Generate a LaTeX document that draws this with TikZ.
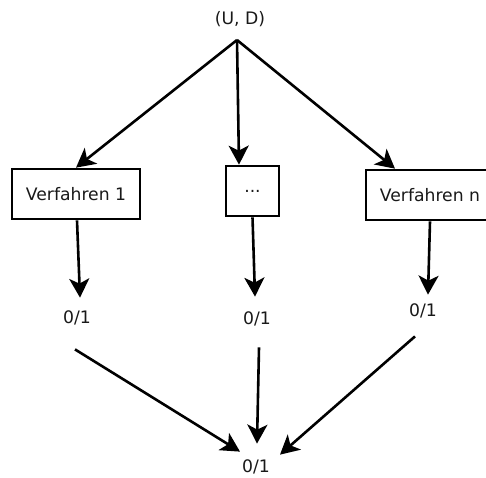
\documentclass[tikz,border=0pt]{standalone}
\usepackage{fontspec}
\setmainfont{DejaVu Sans}
\usetikzlibrary{arrows.meta}

\tikzset{
  box/.style={draw, line width=2.7pt, minimum height=50pt, inner sep=0pt, text=black!90},
  lbl/.style={inner sep=0pt, text=black!90},
  arr/.style={line width=2.6pt, -{Stealth[length=19pt, width=20pt, inset=5pt]}},
}

\begin{document}
\begin{tikzpicture}[x=1pt, y=-1pt, font=\fontsize{17.2}{20}\selectfont]
  % canvas (the last box runs past the right edge)
  \clip (0,0) rectangle (486,477);
  \fill[white] (0,0) rectangle (486,477);

  % input and the split point of the three edges
  \node[lbl] (ud) at (240,19) {(U, D)};
  \coordinate (fork) at (237,40);

  % procedures
  \node[box, minimum width=128pt] (b1) at (76,194) {Verfahren 1};
  \node[box, minimum width=53pt] (b2) at (252.5,191) {...};
  \node[box, minimum width=128pt] (b3) at (430,195) {Verfahren n};

  % single results
  \node[lbl] (r1) at (77,318) {0/1};
  \node[lbl] (r2) at (257,319) {0/1};
  \node[lbl] (r3) at (423,311) {0/1};

  % combined result
  \node[lbl] (bot) at (256,467) {0/1};

  % input to procedures
  \draw[arr] (fork) -- (b1.north);
  \draw[arr] (fork) -- ([xshift=-13.5pt]b2.north);
  \draw[arr] (fork) -- ([xshift=-35pt]b3.north);

  % procedures to single results
  \draw[arr] ([xshift=1pt]b1.south) -- ([xshift=3pt, yshift=13pt]r1.north);
  \draw[arr] (b2.south) -- ([xshift=-2pt, yshift=15pt]r2.north);
  \draw[arr] (b3.south) -- ([xshift=5pt, yshift=9pt]r3.north);

  % single results to combined result
  \draw[arr] ([xshift=-2pt, yshift=-24pt]r1.south) -- ([xshift=-16pt, yshift=8pt]bot.north);
  \draw[arr] ([xshift=2pt, yshift=-21pt]r2.south) -- ([xshift=1pt, yshift=16pt]bot.north);
  \draw[arr] ([xshift=-8pt, yshift=-18pt]r3.south) -- ([xshift=24pt, yshift=5pt]bot.north);
\end{tikzpicture}
\end{document}
